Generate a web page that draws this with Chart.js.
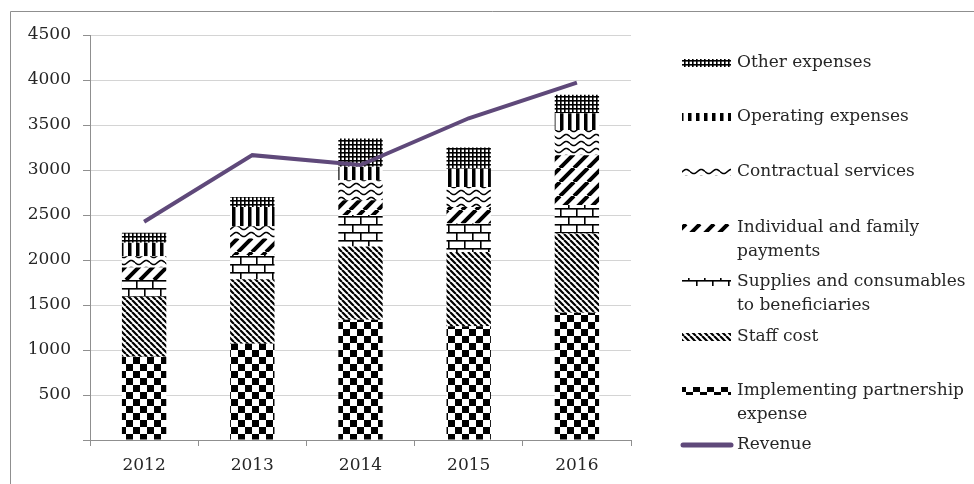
<!DOCTYPE html>
<html>
<head>
<meta charset="utf-8">
<script src="https://cdn.jsdelivr.net/npm/chart.js@4.4.0/dist/chart.umd.min.js"></script>
<style>
  html, body { margin: 0; padding: 0; background: #fff; }
  #wrap { width: 974px; height: 484px; }
</style>
</head>
<body>
<div id="wrap"><canvas id="chart" width="974" height="484"></canvas></div>
<script>
// expenses by type, stacked bottom to top, plus revenue
const years = ['2012', '2013', '2014', '2015', '2016'];
const implementing = [925, 1070, 1335, 1265, 1415];
const staffCost = [668, 715, 815, 825, 880];
const supplies = [185, 270, 350, 315, 315];
const individual = [140, 185, 165, 185, 555];
const contractual = [125, 135, 220, 220, 280];
const operating = [150, 215, 150, 205, 185];
const otherExpenses = [110, 110, 315, 235, 205];
const revenue = [2425, 3165, 3055, 3575, 3970];
const yTicks = [0, 500, 1000, 1500, 2000, 2500, 3000, 3500, 4000, 4500];

const canvas = document.getElementById('chart');
const ctx = canvas.getContext('2d');
const FONT = '"DejaVu Serif", "Liberation Serif", serif';
const PURPLE = '#5f497a';

function makePattern(w, h, draw) {
    const tile = document.createElement('canvas');
    tile.width = w;
    tile.height = h;
    const g = tile.getContext('2d');
    g.fillStyle = '#fff';
    g.fillRect(0, 0, w, h);
    g.fillStyle = '#000';
    g.strokeStyle = '#000';
    draw(g, w, h);
    return ctx.createPattern(tile, 'repeat');
}

const patterns = {
    checker: makePattern(14, 14, (g) => {
        g.fillRect(0, 0, 7, 7);
        g.fillRect(7, 7, 7, 7);
    }),
    staff: makePattern(6, 6, (g) => {
        g.lineWidth = 2.2;
        g.beginPath();
        [-6, 0, 6].forEach((k) => { g.moveTo(k, 0); g.lineTo(k + 6, 6); });
        g.stroke();
    }),
    brick: makePattern(16, 16, (g) => {
        g.fillRect(0, 0, 16, 1.6);
        g.fillRect(0, 8, 16, 1.6);
        g.fillRect(0, 0, 1.6, 8);
        g.fillRect(8, 8, 1.6, 8);
    }),
    individual: makePattern(14, 14, (g) => {
        g.lineWidth = 4;
        g.beginPath();
        [-14, 0, 14].forEach((k) => { g.moveTo(k, 14); g.lineTo(k + 14, 0); });
        g.stroke();
    }),
    wave: makePattern(15, 7, (g) => {
        g.lineWidth = 1.5;
        g.beginPath();
        for (let x = 0; x <= 15; x += 0.5) {
            const y = 3.5 + 2 * Math.sin((x / 15) * Math.PI * 2);
            if (x === 0) g.moveTo(x, y); else g.lineTo(x, y);
        }
        g.stroke();
    }),
    vertical: makePattern(8, 8, (g) => {
        g.fillRect(0, 0, 3.5, 8);
    }),
    grid: makePattern(4, 4, (g) => {
        g.fillRect(0, 0, 4, 1.6);
        g.fillRect(0, 0, 1.6, 4);
    })
};

// frame around the whole chart
const framePlugin = {
    id: 'frame',
    beforeDraw(chart) {
        const c = chart.ctx;
        c.save();
        c.strokeStyle = '#8f8f8f';
        c.lineWidth = 1;
        c.beginPath();
        c.moveTo(10.5, 484);
        c.lineTo(10.5, 11.5);
        c.lineTo(974, 11.5);
        c.stroke();
        c.restore();
    }
};

// legend on the right, swatches filled with the bar patterns
const legendPlugin = {
    id: 'sideLegend',
    afterDraw(chart) {
        const c = chart.ctx;
        const items = [
            { text: ['Other expenses'], fill: patterns.grid, y: 63 },
            { text: ['Operating expenses'], fill: patterns.vertical, y: 117 },
            { text: ['Contractual services'], fill: patterns.wave, y: 172 },
            { text: ['Individual and family', 'payments'], fill: patterns.individual, y: 228 },
            { text: ['Supplies and consumables', 'to beneficiaries'], fill: patterns.brick, y: 282 },
            { text: ['Staff cost'], fill: patterns.staff, y: 337 },
            { text: ['Implementing partnership', 'expense'], fill: patterns.checker, y: 391 },
            { text: ['Revenue'], line: true, y: 445 }
        ];
        c.save();
        c.font = '17px ' + FONT;
        c.textBaseline = 'middle';
        c.fillStyle = '#262626';
        items.forEach((it) => {
            if (it.line) {
                c.strokeStyle = PURPLE;
                c.lineWidth = 5;
                c.lineCap = 'round';
                c.beginPath();
                c.moveTo(683, it.y);
                c.lineTo(731, it.y);
                c.stroke();
            } else {
                c.save();
                c.fillStyle = it.fill;
                c.fillRect(682, it.y - 4, 49, 8);
                c.restore();
            }
            it.text.forEach((line, i) => {
                c.fillText(line, 737, it.y + i * 24);
            });
        });
        c.restore();
    }
};

function barSet(label, data, fill) {
    return {
        type: 'bar',
        label: label,
        data: data,
        backgroundColor: fill,
        borderWidth: 0,
        order: 1
    };
}

new Chart(ctx, {
    data: {
        labels: years,
        datasets: [
            {
                type: 'line',
                label: 'Revenue',
                data: revenue,
                borderColor: PURPLE,
                borderWidth: 4,
                pointRadius: 0,
                tension: 0,
                order: 0
            },
            barSet('Implementing partnership expense', implementing, patterns.checker),
            barSet('Staff cost', staffCost, patterns.staff),
            barSet('Supplies and consumables to beneficiaries', supplies, patterns.brick),
            barSet('Individual and family payments', individual, patterns.individual),
            barSet('Contractual services', contractual, patterns.wave),
            barSet('Operating expenses', operating, patterns.vertical),
            barSet('Other expenses', otherExpenses, patterns.grid)
        ]
    },
    options: {
        responsive: false,
        animation: false,
        devicePixelRatio: 1,
        layout: {
            padding: { left: 0, top: 35, right: 343, bottom: 0 }
        },
        datasets: {
            bar: { categoryPercentage: 1, barPercentage: 0.41 }
        },
        plugins: {
            legend: { display: false },
            tooltip: { enabled: false }
        },
        scales: {
            x: {
                stacked: true,
                grid: {
                    drawOnChartArea: false,
                    color: '#8f8f8f',
                    tickLength: 6
                },
                border: { color: '#8f8f8f' },
                ticks: {
                    color: '#262626',
                    font: { family: FONT, size: 17 },
                    padding: 9
                },
                afterFit(scale) { scale.height = 44; }
            },
            y: {
                stacked: true,
                min: 0,
                max: 4500,
                afterBuildTicks(scale) {
                    scale.ticks = yTicks.map((v) => ({ value: v }));
                },
                grid: {
                    color: '#d4d4d4',
                    tickLength: 7,
                    tickColor: '#8f8f8f'
                },
                border: { color: '#8f8f8f' },
                ticks: {
                    color: '#262626',
                    font: { family: FONT, size: 17 },
                    padding: 12,
                    callback: (v) => (v === 0 ? '' : v)
                },
                afterFit(scale) { scale.width = 90; }
            }
        }
    },
    plugins: [framePlugin, legendPlugin]
});
</script>
</body>
</html>
